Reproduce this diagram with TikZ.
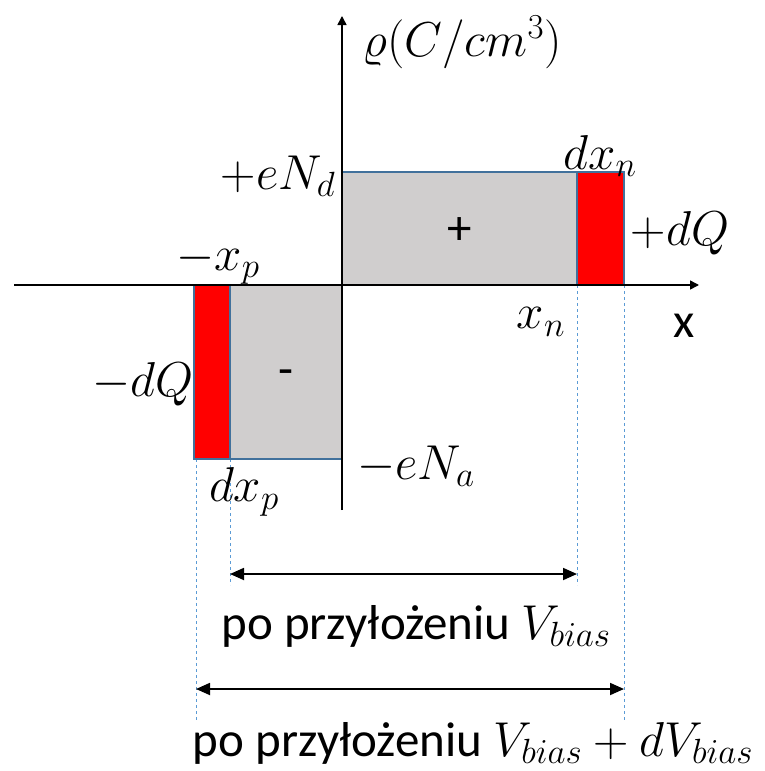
\RequirePackage{fix-cm}
\documentclass[tikz,border=0pt]{standalone}
\usepackage{fontspec}
\setmainfont{Carlito}
\DeclareMathSizes{49}{49}{35}{26}
\usetikzlibrary{arrows.meta}
\definecolor{boxgray}{HTML}{D0CECE}
\definecolor{boxedge}{HTML}{41719C}
\definecolor{guide}{HTML}{5B9BD5}
\tikzset{
  axis/.style={line width=1.5pt, -{Triangle[length=9pt,width=9pt]}},
  dimarrow/.style={line width=1.8pt, {Triangle[length=14pt,width=12pt]}-{Triangle[length=14pt,width=12pt]}},
  region/.style={fill=boxgray, draw=boxedge, line width=1.8pt},
  charge/.style={fill=red, draw=boxedge, line width=1.8pt},
  guideline/.style={draw=guide, dashed, line width=0.9pt},
  lbl/.style={font=\fontsize{49}{56}\selectfont, inner sep=0pt}
}
\begin{document}
\begin{tikzpicture}[x=1pt,y=-1pt]
\useasboundingbox (0,0) rectangle (764,771);
% guides
\draw[guideline] (196,459) -- (196,722);
\draw[guideline] (230,459) -- (230,585);
\draw[guideline] (577,285) -- (577,585);
\draw[guideline] (624,285) -- (624,722);
% regions
\draw[region] (342,172) rectangle (577,285);
\draw[charge] (577,172) rectangle (624,285);
\draw[region] (230,285) rectangle (342,459);
\draw[charge] (194,285) rectangle (230,459);
% axes
\coordinate (xs) at (14,285);
\coordinate (xe) at (699,285);
\coordinate (ys) at (342,510);
\coordinate (ye) at (342,16);
\draw[axis] (xs) -- (xe);
\draw[axis] (ys) -- (ye);
% arrows
\coordinate (a1l) at (230,574);
\coordinate (a1r) at (577,574);
\coordinate (a2l) at (196,689);
\coordinate (a2r) at (624,689);
\draw[dimarrow] (a1l) -- (a1r);
\draw[dimarrow] (a2l) -- (a2r);
% labels
\node[lbl] (rho) at (462,42) {$\varrho(C/cm^3)$};
\node[lbl] (nd) at (278,176) {$+eN_d$};
\node[lbl] (dxn) at (600,156) {$dx_n$};
\node[lbl] (dqp) at (680,233) {$+dQ$};
\node[lbl] (xp) at (218,263) {$-x_p$};
\node[lbl] (xn) at (541,322) {$x_n$};
\node[lbl] (x) at (684,326) {x};
\node[lbl] (dqm) at (143,384) {$-dQ$};
\node[lbl] (minus) at (286,378) {-};
\node[lbl] (plus) at (460,231) {+};
\node[lbl] (na) at (416,466) {$-eN_a$};
\node[lbl] (dxp) at (244,492) {$dx_p$};
\node[lbl, anchor=base] (t1) at (416,639) {po przyłożeniu $V_{bias}$};
\node[lbl, anchor=base] (t2) at (473,756) {po przyłożeniu $V_{bias}+dV_{bias}$};
\end{tikzpicture}
\end{document}
